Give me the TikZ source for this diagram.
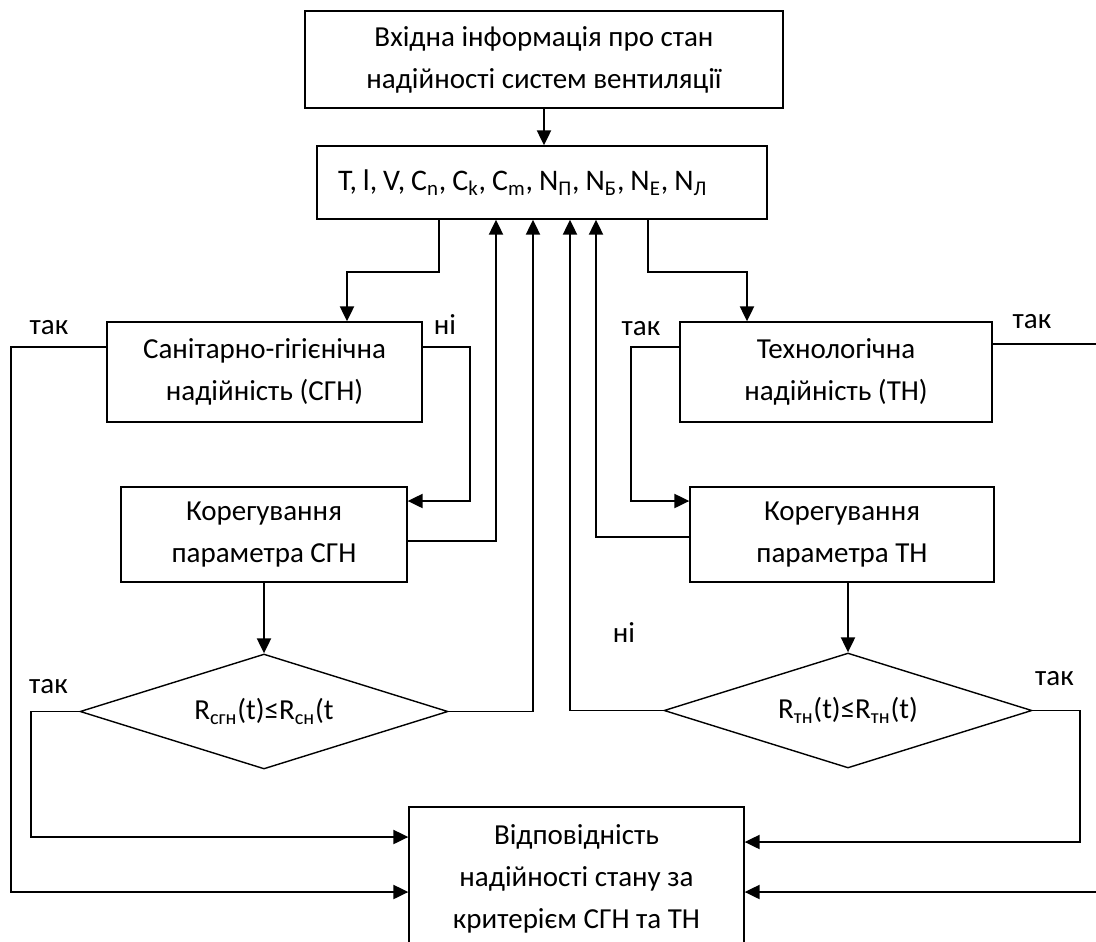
\documentclass[tikz,border=0pt]{standalone}
\usepackage{fontspec}
\setmainfont{Carlito}
\usetikzlibrary{calc,shapes.geometric,arrows.meta}

\begin{document}
\begin{tikzpicture}[x=0.02cm,y=-0.02cm]
      \tikzset{block/.style = {shape=rectangle,draw,line width=0.8pt,align=center,inner sep=0pt,font=\fontsize{16.5}{23.8}\selectfont}}
      \tikzset{cond/.style = {shape=diamond,draw,line width=0.8pt,inner sep=0pt,aspect=3.2,font=\fontsize{16.5}{20}\selectfont}}
      \tikzset{edge/.style = {-,line width=1pt}}
      \tikzset{arr/.style = {edge,-{Triangle[length=8.5pt,width=8pt]}}}
      \tikzset{lbl/.style = {anchor=base,inner sep=0pt,font=\fontsize{16.5}{20}\selectfont}}
      \useasboundingbox (0,0) rectangle (1096,941);

      \node[block,minimum width=9.56cm,minimum height=1.94cm] (input) at (544, 59.5)
        {Вхідна інформація про стан\\надійності систем вентиляції};
      \node[block,minimum width=9cm,minimum height=1.46cm,align=left,text width=8.16cm,inner xsep=0.42cm,
            font=\fontsize{17}{22}\selectfont] (params) at (542, 182.5)
        {\spaceskip=0.2em\relax T, l, V, C\textsubscript{n}, C\textsubscript{k}, C\textsubscript{m}, N\textsubscript{П}, N\textsubscript{Б}, N\textsubscript{Е}, N\textsubscript{Л}\par\vspace{5pt}};

      \node[block,minimum width=6.3cm,minimum height=2cm] (sgn) at (264.5, 372)
        {Санітарно-гігієнічна\\надійність (СГН)};
      \node[block,minimum width=6.24cm,minimum height=2cm] (tn) at (836, 372)
        {Технологічна\\надійність (ТН)};

      \node[block,minimum width=5.72cm,minimum height=1.9cm] (korrS) at (264, 534.5)
        {Корегування\\параметра СГН};
      \node[block,minimum width=6.08cm,minimum height=1.9cm] (korrT) at (842, 534.5)
        {Корегування\\параметра ТН};

      \node[cond,minimum width=7.36cm,minimum height=2.3cm] (diaS) at (264, 711.5)
        {R\textsubscript{сгн}(t)≤R\textsubscript{сн}(t};
      \node[cond,minimum width=7.36cm,minimum height=2.3cm] (diaT) at (848, 710.5)
        {R\textsubscript{тн}(t)≤R\textsubscript{тн}(t)};

      \node[block,minimum width=6.7cm,minimum height=2.88cm] (final) at (576.5, 879)
        {Відповідність\\надійності стану за\\критерієм СГН та ТН};

      % labels
      \node[lbl] (takS) at (49, 334) {так};
      \node[lbl] (niS) at (445, 334) {ні};
      \node[lbl] (takT) at (641, 335) {так};
      \node[lbl] (takTR) at (1032, 328) {так};
      \node[lbl] (niT) at (624, 642) {ні};
      \node[lbl] (takDS) at (48.5, 693) {так};
      \node[lbl] (takDT) at (1054.5, 685) {так};

      \draw[arr] (input.south) to (input.south |- params.north);
      \draw[arr] ($(params.south)+(-103,0)$) -- ++(0,52) -| ($(sgn.north)+(82.5,0)$);
      \draw[arr] ($(params.south)+(106,0)$) -- ++(0,52) -| ($(tn.north)+(-89,0)$);

      \draw[arr] ($(sgn.west)+(0,-25)$) -- ++(-95,0) |- ($(final.west)+(0,13)$);
      \draw[arr] ($(sgn.east)+(0,-25)$) -- ++(47,0) |- ($(korrS.east)+(0,-33.5)$);
      \draw[arr] ($(korrS.east)+(0,6.5)$) -| ($(params.south)+(-46,0)$);
      \draw[arr] (korrS.south) to (diaS.north);
      \draw[arr] (diaS.east) -| ($(params.south)+(-9,0)$);
      \draw[arr] (diaS.west) -- ++(-48,0) |- ($(final.west)+(0,-42)$);

      \draw[arr] ($(tn.west)+(0,-25)$) -- ++(-48,0) |- ($(korrT.west)+(0,-33.5)$);
      \draw[arr] ($(korrT.west)+(0,2.5)$) -| ($(params.south)+(54,0)$);
      \draw[arr] (diaT.north |- korrT.south) to (diaT.north);
      \draw[arr] (diaT.west) -| ($(params.south)+(28,0)$);
      \draw[arr] (diaT.east) -- ++(47,0) |- ($(final.east)+(0,-37)$);
      \draw[arr] ($(tn.east)+(0,-28)$) -- ++(110,0) |- ($(final.east)+(0,13)$);
\end{tikzpicture}
\end{document}
